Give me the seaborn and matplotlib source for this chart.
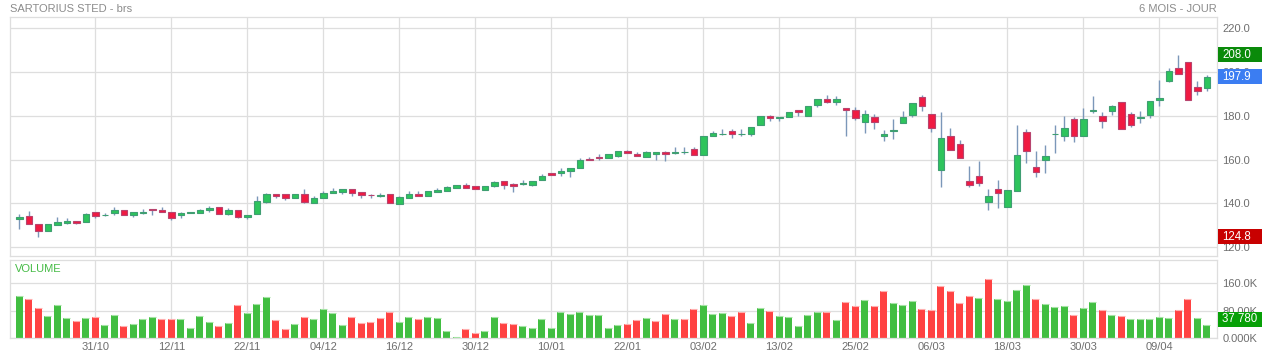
"""Candlestick + volume chart, SARTORIUS STED, 6 months daily."""

import numpy as np
import pandas as pd
import matplotlib
matplotlib.use("Agg")
import matplotlib.pyplot as plt
import matplotlib.transforms as mtransforms
from matplotlib.patches import Rectangle
import seaborn as sns

# --- data (one entry per trading day) ---
opens = [
    133.1, 134.1, 130.4, 127.6, 130.3, 131.0, 132.0, 131.6, 136.0, 134.7,
    135.7, 137.0, 134.8, 135.8, 137.4, 136.8, 136.0, 134.8, 135.8, 135.7,
    137.1, 138.6, 135.1, 136.8, 133.9, 135.0, 140.7, 144.2, 144.1, 142.6,
    144.5, 140.3, 142.6, 144.8, 145.3, 146.5, 145.1, 144.0, 143.6, 144.1,
    139.8, 142.6, 144.1, 143.5, 145.3, 145.7, 147.1, 148.3, 147.9, 146.2,
    147.9, 150.1, 148.9, 149.1, 148.3, 150.8, 153.7, 153.8, 154.7, 156.2,
    160.5, 161.4, 160.7, 161.6, 164.2, 162.4, 161.2, 162.7, 163.3, 163.2,
    163.3, 165.1, 162.1, 170.7, 171.7, 172.9, 171.6, 171.7, 175.7, 180.1,
    179.1, 179.7, 182.5, 179.8, 185.0, 187.8, 186.2, 183.7, 182.8, 177.3,
    179.5, 170.7, 173.2, 176.8, 180.3, 188.6, 180.9, 155.2, 170.6, 167.3,
    150.4, 152.4, 140.7, 146.8, 138.4, 145.7, 172.7, 156.8, 159.8, 171.7,
    170.9, 178.6, 170.7, 182.1, 180.0, 182.1, 186.3, 180.9, 179.2, 180.3,
    187.3, 195.9, 202.0, 204.7, 193.2, 192.7,
]
highs = [
    135.0, 136.5, 130.6, 130.4, 133.8, 133.3, 132.0, 135.7, 136.3, 135.7,
    138.3, 137.0, 136.2, 137.4, 137.4, 138.6, 136.0, 136.3, 136.3, 137.3,
    138.8, 138.6, 137.8, 136.8, 134.7, 143.3, 144.8, 144.2, 144.1, 144.5,
    146.5, 143.3, 145.6, 147.1, 146.5, 146.5, 145.1, 144.1, 144.7, 144.1,
    143.6, 145.6, 145.6, 145.6, 147.1, 147.9, 148.6, 149.2, 147.9, 147.9,
    150.3, 150.1, 149.2, 150.5, 150.2, 153.3, 153.9, 156.4, 156.4, 160.9,
    161.3, 162.7, 162.8, 163.8, 164.6, 163.3, 163.9, 163.3, 164.1, 165.6,
    166.0, 166.0, 170.6, 172.9, 173.8, 173.8, 173.8, 175.1, 180.0, 180.4,
    179.6, 181.6, 182.5, 184.5, 187.8, 189.6, 189.0, 183.7, 184.1, 182.9,
    180.9, 173.6, 178.4, 182.3, 186.0, 189.7, 180.9, 181.9, 174.7, 168.8,
    156.9, 159.2, 146.5, 150.6, 146.3, 176.0, 173.8, 164.2, 166.5, 176.0,
    180.0, 179.7, 183.5, 188.9, 181.8, 185.0, 186.3, 181.7, 182.3, 186.8,
    196.5, 202.0, 208.0, 204.7, 195.9, 198.6,
]
lows = [
    128.2, 130.7, 124.8, 127.6, 130.3, 130.4, 130.6, 131.6, 133.5, 134.1,
    134.7, 134.8, 133.9, 135.1, 134.8, 135.9, 132.3, 133.5, 135.5, 135.5,
    136.2, 135.4, 134.7, 133.5, 132.7, 135.0, 140.3, 142.3, 141.8, 142.3,
    140.4, 140.3, 142.6, 144.8, 144.4, 143.5, 142.6, 142.6, 142.9, 140.0,
    139.8, 142.6, 143.5, 143.5, 145.3, 145.7, 147.1, 147.1, 146.8, 146.2,
    147.6, 146.8, 145.3, 148.6, 148.0, 150.8, 153.0, 152.6, 152.2, 156.2,
    159.7, 159.7, 160.7, 161.2, 163.0, 161.6, 161.2, 159.7, 159.4, 162.7,
    162.7, 162.1, 162.1, 170.7, 171.3, 169.8, 170.9, 171.0, 175.7, 177.5,
    177.5, 179.7, 179.9, 179.8, 184.1, 185.9, 185.0, 171.0, 178.0, 172.1,
    174.1, 168.5, 169.4, 176.8, 179.4, 182.1, 172.6, 147.6, 164.5, 160.9,
    147.4, 148.0, 136.9, 138.0, 138.4, 145.7, 158.5, 152.1, 153.9, 163.0,
    168.5, 168.0, 170.7, 181.2, 174.4, 180.3, 174.1, 174.8, 176.7, 178.9,
    184.7, 195.3, 199.1, 187.3, 189.7, 191.2,
]
closes = [
    133.6, 130.7, 127.6, 130.4, 131.4, 131.9, 131.2, 135.1, 134.4, 134.9,
    137.0, 134.8, 136.2, 135.9, 136.8, 135.9, 133.2, 135.6, 136.0, 137.0,
    138.0, 135.4, 136.9, 133.9, 134.7, 141.0, 144.1, 143.5, 142.6, 144.1,
    140.7, 142.4, 144.7, 145.6, 146.5, 145.0, 143.9, 143.9, 143.7, 140.0,
    142.9, 144.5, 143.5, 145.6, 146.0, 147.4, 148.6, 147.1, 146.8, 147.9,
    149.7, 148.6, 148.2, 149.3, 150.2, 152.4, 153.0, 154.7, 156.4, 160.0,
    159.7, 160.7, 162.8, 163.8, 163.0, 161.6, 163.3, 163.3, 162.7, 163.3,
    163.4, 162.1, 170.6, 172.0, 171.8, 171.8, 171.7, 175.1, 180.0, 179.1,
    179.6, 181.6, 181.6, 184.5, 187.8, 186.4, 187.7, 182.8, 178.9, 180.9,
    177.3, 171.8, 173.3, 179.5, 186.0, 184.5, 174.4, 170.0, 164.5, 160.9,
    148.4, 149.5, 143.2, 144.8, 146.3, 162.0, 164.1, 154.4, 161.8, 171.8,
    174.7, 170.9, 178.6, 182.9, 177.6, 184.7, 174.1, 175.7, 179.3, 186.8,
    188.3, 200.6, 199.1, 187.3, 191.4, 197.9,
]
volumes = [
    123000, 114000, 89000, 65000, 96000, 58000, 50000, 58000, 62000, 38000,
    67000, 36000, 41000, 56000, 62000, 56000, 55000, 56000, 29000, 64000,
    48000, 36000, 44000, 97000, 74000, 99000, 120000, 52000, 27000, 43000,
    62000, 57000, 85000, 74000, 40000, 63000, 45000, 47000, 60000, 78000,
    47000, 62000, 57000, 61000, 59000, 21000, 4000, 27000, 16000, 21000,
    62000, 45000, 43000, 36000, 31000, 56000, 30000, 76000, 72000, 78000,
    67000, 69000, 30000, 38000, 42000, 53000, 59000, 50000, 71000, 56000,
    56000, 85000, 98000, 72000, 74000, 64000, 76000, 44000, 87000, 80000,
    65000, 62000, 36000, 67000, 76000, 76000, 54000, 105000, 94000, 112000,
    94000, 138000, 103000, 97000, 109000, 84000, 82000, 152000, 137000, 102000,
    123000, 117000, 173000, 115000, 108000, 140000, 154000, 113000, 99000, 91000,
    93000, 67000, 88000, 106000, 81000, 68000, 64000, 56000, 56000, 56000,
    62000, 60000, 83000, 115000, 58000, 37780,
]
# volume bar colour per day: G = up, R = down
vol_dir = (
    "GRRGGGRGRGGRGGGRRGGGGRGRGGGRRGRGGGGRRRRRGGR"
    "GGGGRRGGRRGGGGGGGGGGGRRGRRGRRGGGRRGGRGGGGGRG"
    "RRGRRGGGRRRRRRGRGGGGRGGGRGGRGRGGGGGRRGG"
)
date_labels = ["31/10", "12/11", "22/11", "04/12", "16/12", "30/12", "10/01",
               "22/01", "03/02", "13/02", "25/02", "06/03", "18/03", "30/03", "09/04"]
price_ticks = [120, 140, 160, 180, 200, 220]
vol_ticks = [0, 80000, 160000]
vol_tick_labels = ["0.000K", "80.00K", "160.0K"]

title = "SARTORIUS STED - brs"
period = "6 MOIS - JOUR"

# --- styling ---
W, H = 1262, 358
GRID = "#dedede"
TXT = "#6e6e6e"
C_UP, C_UP_EDGE = "#2ec45c", "#3f9e72"
C_DN, C_DN_EDGE = "#f01a42", "#b8446e"
WICK = "#7b97b9"
V_UP, V_DN = "#41be41", "#ff4242"
V_UP_TOP, V_DN_TOP = "#a6e3a6", "#ffb0b0"

sns.set_theme(style="white")
plt.rcParams["font.family"] = ["Liberation Sans", "DejaVu Sans"]

df = pd.DataFrame({
    "day": np.arange(len(closes)),
    "open": opens, "high": highs, "low": lows, "close": closes,
    "volume": volumes, "dir": list(vol_dir),
})

fig = plt.figure(figsize=(W / 100, H / 100), dpi=100)


def px_axes(left, top, right, bottom):
    return fig.add_axes([left / W, 1 - bottom / H, (right - left) / W, (bottom - top) / H])


ax = px_axes(10, 17, 1217, 256)
axv = px_axes(10, 260, 1217, 338.3)

# candles
up = df["close"] >= df["open"]
ax.vlines(df["day"], df["low"], df["high"], color=WICK, lw=1.0, zorder=2)
body_lo = np.minimum(df["open"], df["close"])
body_h = np.maximum((df["close"] - df["open"]).abs(), 0.15)
ax.bar(df["day"], body_h, bottom=body_lo, width=0.68,
       color=np.where(up, C_UP, C_DN), edgecolor=np.where(up, C_UP_EDGE, C_DN_EDGE),
       linewidth=0.8, zorder=3)

# volume
sns.barplot(data=df, x="day", y="volume", hue="dir", palette={"G": V_UP, "R": V_DN},
            dodge=False, native_scale=True, width=0.74, errorbar=None, legend=False,
            saturation=1, linewidth=0, ax=axv, zorder=2)
axv.hlines(df["volume"], df["day"] - 0.37, df["day"] + 0.37,
           colors=np.where(df["dir"] == "G", V_UP_TOP, V_DN_TOP), lw=0.8, zorder=3)

xlim = (-0.98, 126.07)
for a in (ax, axv):
    a.set_xlim(*xlim)
    a.set_xticks(range(8, 121, 8))
    a.grid(True, color=GRID, lw=0.9)
    a.set_axisbelow(True)
    a.yaxis.tick_right()
    a.tick_params(length=0, labelsize=8, labelcolor=TXT)
    a.tick_params(axis="y", pad=4)
    a.set_xlabel("")
    a.set_ylabel("")
    for s in a.spines.values():
        s.set_color(GRID)
        s.set_linewidth(0.9)

ax.set_ylim(116.0, 225.2)
ax.set_yticks(price_ticks)
ax.set_yticklabels([f"{t:.1f}" for t in price_ticks])
ax.tick_params(axis="x", labelbottom=False)

axv.set_ylim(0, 228000)
axv.set_yticks(vol_ticks)
axv.set_yticklabels(vol_tick_labels)
axv.set_xticklabels(date_labels)
axv.tick_params(axis="x", pad=3)

# header texts
fig.text(10 / W, 1 - 9 / H, title, ha="left", va="center", fontsize=8, color="#8c8c8c")
fig.text(1217 / W, 1 - 9 / H, period, ha="right", va="center", fontsize=8, color="#8c8c8c")
fig.text(15 / W, 1 - 268.5 / H, "VOLUME", ha="left", va="center", fontsize=8, color="#45bb45")

# value tags on the right
ident = mtransforms.IdentityTransform()


def tag(a, value, text, color, dy=0.0, h=15):
    ypix = a.transData.transform((0, value))[1] + dy
    fig.add_artist(Rectangle((1218, ypix - h / 2), W - 1218, h, transform=ident,
                             facecolor=color, edgecolor="none", zorder=2))
    fig.text(1222 / W, ypix / H, text, ha="left", va="center", fontsize=8.3,
             color="white", zorder=3)


tag(ax, max(highs), f"{max(highs):.1f}", "#0a8a0a")
tag(ax, closes[-1], f"{closes[-1]:.1f}", "#3b7df2")
tag(ax, min(lows), f"{min(lows):.1f}", "#c80000")
tag(axv, volumes[-1], f"{volumes[-1] // 1000} {volumes[-1] % 1000:03d}", "#07a007", dy=6)

fig.savefig("out.png", dpi=100)
